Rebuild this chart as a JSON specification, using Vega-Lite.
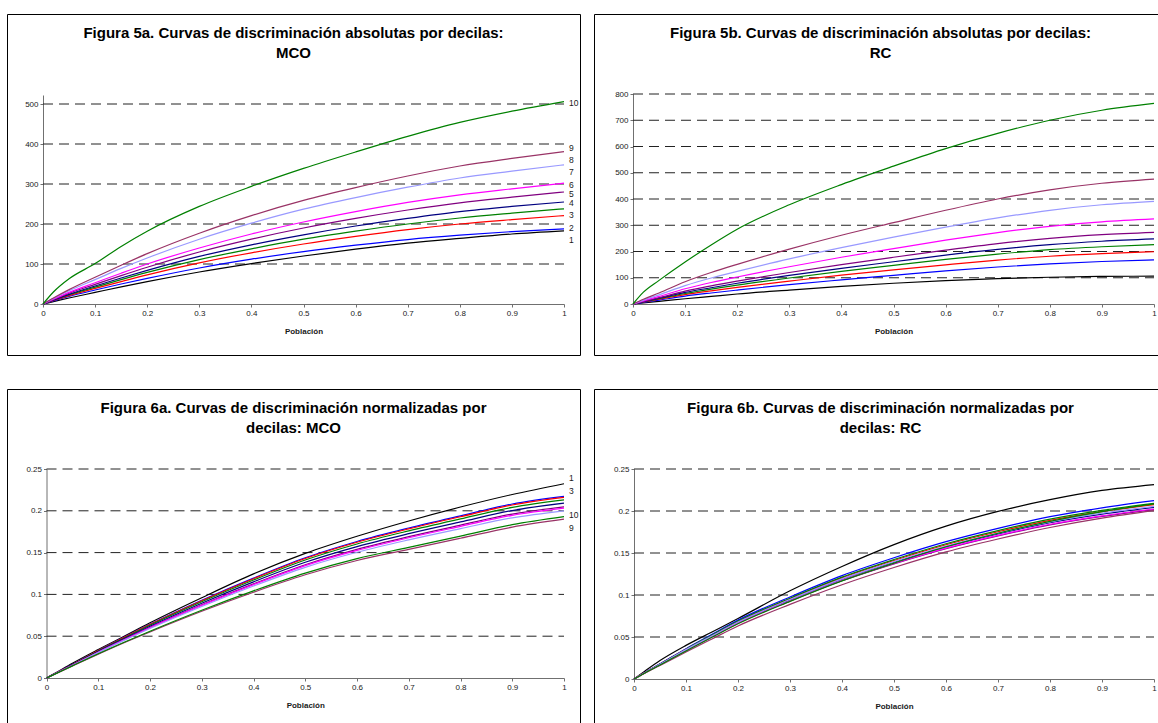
{
  "$schema": "https://vega.github.io/schema/vega-lite/v6.json",
  "padding": {"left": 6, "top": 13, "right": 0, "bottom": 0},
  "background": "white",
  "config": {
    "font": "Liberation Sans",
    "view": {"stroke": "#000000", "strokeWidth": 1},
    "title": {"fontSize": 15, "fontWeight": "bold", "color": "#000000", "lineHeight": 20, "anchor": "middle", "font": "Liberation Sans", "offset": -47},
    "axis": {"domainColor": "#707070", "tickColor": "#707070", "tickSize": 3, "labelFontSize": 8, "labelColor": "#1a1a1a", "labelPadding": 2, "titleFontSize": 8, "titleFontWeight": "bold", "titleColor": "#1a1a1a", "titlePadding": 10, "grid": false, "labelFlush": false, "labelOverlap": false, "domainWidth": 1, "tickWidth": 1},
    "text": {"fontSize": 8.5, "color": "#1a1a1a"}
  },
  "datasets": {
    "l5a": [
      {"x": 0, "1": 0, "2": 0, "3": 0, "4": 0, "5": 0, "6": 0, "7": 0, "8": 0, "9": 0, "10": 0},
      {"x": 0.02, "1": 6, "2": 8, "3": 9, "4": 10, "5": 10, "6": 11, "7": 12, "8": 14, "9": 15, "10": 30},
      {"x": 0.05, "1": 15, "2": 19, "3": 21, "4": 23, "5": 24, "6": 27, "7": 29, "8": 33, "9": 36, "10": 63},
      {"x": 0.1, "1": 29, "2": 35, "3": 39, "4": 42, "5": 45, "6": 49, "7": 53, "8": 61, "9": 67, "10": 101},
      {"x": 0.15, "1": 43, "2": 50, "3": 56, "4": 61, "5": 65, "6": 71, "7": 77, "8": 89, "9": 97, "10": 144},
      {"x": 0.2, "1": 56, "2": 64, "3": 73, "4": 79, "5": 84, "6": 92, "7": 100, "8": 115, "9": 126, "10": 182},
      {"x": 0.3, "1": 80, "2": 90, "3": 103, "4": 111, "5": 119, "6": 130, "7": 140, "8": 162, "9": 177, "10": 244},
      {"x": 0.4, "1": 101, "2": 112, "3": 128, "4": 138, "5": 148, "6": 162, "7": 175, "8": 202, "9": 221, "10": 294},
      {"x": 0.5, "1": 120, "2": 131, "3": 150, "4": 162, "5": 173, "6": 190, "7": 205, "8": 237, "9": 259, "10": 339},
      {"x": 0.6, "1": 137, "2": 147, "3": 169, "4": 182, "5": 195, "6": 214, "7": 231, "8": 266, "9": 291, "10": 380},
      {"x": 0.7, "1": 152, "2": 161, "3": 186, "4": 200, "5": 214, "6": 235, "7": 254, "8": 292, "9": 320, "10": 419},
      {"x": 0.8, "1": 164, "2": 172, "3": 200, "4": 215, "5": 231, "6": 253, "7": 273, "8": 315, "9": 345, "10": 454},
      {"x": 0.9, "1": 175, "2": 181, "3": 211, "4": 227, "5": 244, "6": 267, "7": 288, "8": 332, "9": 364, "10": 482},
      {"x": 1, "1": 183, "2": 188, "3": 221, "4": 238, "5": 255, "6": 280, "7": 302, "8": 348, "9": 381, "10": 506}
    ],
    "l5b": [
      {"x": 0, "1": 0, "2": 0, "3": 0, "4": 0, "5": 0, "6": 0, "7": 0, "8": 0, "9": 0, "10": 0},
      {"x": 0.02, "1": 4, "2": 6, "3": 8, "4": 9, "5": 9, "6": 10, "7": 12, "8": 15, "9": 18, "10": 45},
      {"x": 0.05, "1": 10, "2": 15, "3": 18, "4": 20, "5": 22, "6": 24, "7": 29, "8": 35, "9": 42, "10": 90},
      {"x": 0.1, "1": 20, "2": 30, "3": 36, "4": 40, "5": 44, "6": 49, "7": 58, "8": 70, "9": 85, "10": 160},
      {"x": 0.15, "1": 29, "2": 42, "3": 50, "4": 57, "5": 62, "6": 69, "7": 82, "8": 99, "9": 120, "10": 225},
      {"x": 0.2, "1": 38, "2": 53, "3": 63, "4": 72, "5": 79, "6": 87, "7": 103, "8": 124, "9": 151, "10": 285},
      {"x": 0.3, "1": 53, "2": 74, "3": 87, "4": 99, "5": 109, "6": 120, "7": 142, "8": 172, "9": 209, "10": 378},
      {"x": 0.4, "1": 67, "2": 92, "3": 110, "4": 124, "5": 136, "6": 150, "7": 178, "8": 215, "9": 262, "10": 455},
      {"x": 0.5, "1": 79, "2": 109, "3": 130, "4": 147, "5": 161, "6": 178, "7": 211, "8": 255, "9": 310, "10": 525},
      {"x": 0.6, "1": 89, "2": 126, "3": 149, "4": 170, "5": 186, "6": 205, "7": 243, "8": 293, "9": 357, "10": 592},
      {"x": 0.7, "1": 97, "2": 141, "3": 167, "4": 190, "5": 208, "6": 230, "7": 272, "8": 328, "9": 400, "10": 650},
      {"x": 0.8, "1": 102, "2": 153, "3": 182, "4": 207, "5": 226, "6": 250, "7": 296, "8": 357, "9": 435, "10": 700},
      {"x": 0.9, "1": 105, "2": 162, "3": 192, "4": 218, "5": 239, "6": 264, "7": 313, "8": 378, "9": 460, "10": 738},
      {"x": 1, "1": 106, "2": 168, "3": 199, "4": 226, "5": 248, "6": 273, "7": 324, "8": 391, "9": 476, "10": 764}
    ],
    "l6a": [
      {"x": 0, "1": 0, "2": 0, "3": 0, "4": 0, "5": 0, "6": 0, "7": 0, "8": 0, "9": 0, "10": 0},
      {"x": 0.02, "1": 0.007, "2": 0.0065, "3": 0.0065, "4": 0.0064, "5": 0.0063, "6": 0.0061, "7": 0.0061, "8": 0.006, "9": 0.0057, "10": 0.0058},
      {"x": 0.05, "1": 0.0175, "2": 0.0163, "3": 0.0162, "4": 0.016, "5": 0.0157, "6": 0.0154, "7": 0.0152, "8": 0.015, "9": 0.0143, "10": 0.0145},
      {"x": 0.1, "1": 0.034, "2": 0.033, "3": 0.0328, "4": 0.0324, "5": 0.0318, "6": 0.0311, "7": 0.0309, "8": 0.0304, "9": 0.0285, "10": 0.029},
      {"x": 0.15, "1": 0.05, "2": 0.0489, "3": 0.0486, "4": 0.0479, "5": 0.047, "6": 0.0461, "7": 0.0457, "8": 0.045, "9": 0.0422, "10": 0.0428},
      {"x": 0.2, "1": 0.066, "2": 0.0643, "3": 0.0639, "4": 0.0631, "5": 0.0619, "6": 0.0606, "7": 0.0601, "8": 0.0592, "9": 0.0551, "10": 0.056},
      {"x": 0.3, "1": 0.096, "2": 0.093, "3": 0.0924, "4": 0.0912, "5": 0.0895, "6": 0.0876, "7": 0.0869, "8": 0.0856, "9": 0.0798, "10": 0.0811},
      {"x": 0.4, "1": 0.1245, "2": 0.1195, "3": 0.1188, "4": 0.1172, "5": 0.115, "6": 0.1126, "7": 0.1117, "8": 0.11, "9": 0.1026, "10": 0.1042},
      {"x": 0.5, "1": 0.149, "2": 0.1438, "3": 0.143, "4": 0.1411, "5": 0.1384, "6": 0.1355, "7": 0.1345, "8": 0.1324, "9": 0.1235, "10": 0.1255},
      {"x": 0.6, "1": 0.1695, "2": 0.1633, "3": 0.1624, "4": 0.1603, "5": 0.1572, "6": 0.1539, "7": 0.1527, "8": 0.1504, "9": 0.1406, "10": 0.1428},
      {"x": 0.7, "1": 0.1878, "2": 0.1794, "3": 0.1784, "4": 0.176, "5": 0.1727, "6": 0.1691, "7": 0.1678, "8": 0.1652, "9": 0.1539, "10": 0.1563},
      {"x": 0.8, "1": 0.2045, "2": 0.194, "3": 0.1929, "4": 0.1903, "5": 0.1867, "6": 0.1828, "7": 0.1814, "8": 0.1786, "9": 0.1672, "10": 0.1698},
      {"x": 0.9, "1": 0.2195, "2": 0.2081, "3": 0.2069, "4": 0.2041, "5": 0.2003, "6": 0.1961, "7": 0.1946, "8": 0.1916, "9": 0.1805, "10": 0.1834},
      {"x": 1, "1": 0.2324, "2": 0.2172, "3": 0.216, "4": 0.2131, "5": 0.2091, "6": 0.2047, "7": 0.2031, "8": 0.2, "9": 0.19, "10": 0.193}
    ],
    "l6b": [
      {"x": 0, "1": 0, "2": 0, "3": 0, "4": 0, "5": 0, "6": 0, "7": 0, "8": 0, "9": 0, "10": 0},
      {"x": 0.02, "1": 0.009, "2": 0.0074, "3": 0.0073, "4": 0.0073, "5": 0.0072, "6": 0.0071, "7": 0.0071, "8": 0.0072, "9": 0.0066, "10": 0.0069},
      {"x": 0.05, "1": 0.022, "2": 0.018, "3": 0.0176, "4": 0.0178, "5": 0.0174, "6": 0.0171, "7": 0.0172, "8": 0.0175, "9": 0.016, "10": 0.0167},
      {"x": 0.1, "1": 0.04, "2": 0.0361, "3": 0.0353, "4": 0.0355, "5": 0.0347, "6": 0.0343, "7": 0.0344, "8": 0.035, "9": 0.0321, "10": 0.0334},
      {"x": 0.15, "1": 0.056, "2": 0.0531, "3": 0.0519, "4": 0.0523, "5": 0.0511, "6": 0.0504, "7": 0.0506, "8": 0.0514, "9": 0.0477, "10": 0.0496},
      {"x": 0.2, "1": 0.072, "2": 0.0701, "3": 0.0685, "4": 0.069, "5": 0.0675, "6": 0.0665, "7": 0.0668, "8": 0.0678, "9": 0.0631, "10": 0.0657},
      {"x": 0.3, "1": 0.105, "2": 0.0977, "3": 0.0955, "4": 0.0962, "5": 0.094, "6": 0.0927, "7": 0.0931, "8": 0.0946, "9": 0.0888, "10": 0.0924},
      {"x": 0.4, "1": 0.134, "2": 0.1231, "3": 0.1204, "4": 0.1213, "5": 0.1186, "6": 0.1169, "7": 0.1174, "8": 0.1192, "9": 0.1122, "10": 0.1168},
      {"x": 0.5, "1": 0.16, "2": 0.1444, "3": 0.1411, "4": 0.1422, "5": 0.139, "6": 0.1371, "7": 0.1376, "8": 0.1398, "9": 0.1327, "10": 0.138},
      {"x": 0.6, "1": 0.182, "2": 0.1635, "3": 0.1598, "4": 0.161, "5": 0.1574, "6": 0.1552, "7": 0.1558, "8": 0.1583, "9": 0.1513, "10": 0.1574},
      {"x": 0.7, "1": 0.1995, "2": 0.1794, "3": 0.1753, "4": 0.1767, "5": 0.1727, "6": 0.1704, "7": 0.171, "8": 0.1737, "9": 0.1667, "10": 0.1735},
      {"x": 0.8, "1": 0.2135, "2": 0.1932, "3": 0.1888, "4": 0.1903, "5": 0.186, "6": 0.1835, "7": 0.1842, "8": 0.1871, "9": 0.1804, "10": 0.1877},
      {"x": 0.9, "1": 0.2245, "2": 0.2038, "3": 0.1992, "4": 0.2007, "5": 0.1962, "6": 0.1935, "7": 0.1943, "8": 0.1974, "9": 0.1916, "10": 0.1993},
      {"x": 1, "1": 0.2315, "2": 0.2123, "3": 0.2075, "4": 0.2091, "5": 0.2044, "6": 0.2016, "7": 0.2024, "8": 0.2056, "9": 0.2004, "10": 0.2085}
    ]
  },
  "spacing": 32,
  "vconcat": [
    {
      "spacing": 12,
      "hconcat": [
        {
          "width": 573, "height": 341,
          "title": {"text": ["Figura 5a. Curvas de discriminación absolutas por decilas:", "MCO"]},
          "encoding": {
            "x": {"field": "x", "type": "quantitative", "scale": {"domain": [0, 1], "range": [36, 557], "nice": false, "zero": false},
                  "axis": {"values": [0, 0.1, 0.2, 0.3, 0.4, 0.5, 0.6, 0.7, 0.8, 0.9, 1], "format": "~r", "title": "Población", "offset": -51}},
            "y": {"field": "y", "type": "quantitative", "scale": {"domain": [0, 522.5], "range": [290, 81], "nice": false},
                  "axis": {"values": [0, 100, 200, 300, 400, 500], "format": "~r", "title": null, "offset": -36}}
          },
          "layer": [
            {"data": {"values": [{"x": 0, "x2": 1, "y": 100}, {"x": 0, "x2": 1, "y": 200}, {"x": 0, "x2": 1, "y": 300}, {"x": 0, "x2": 1, "y": 400}, {"x": 0, "x2": 1, "y": 500}]},
             "mark": {"type": "rule", "strokeDash": [10, 6], "color": "#222222", "strokeWidth": 1},
             "encoding": {"x2": {"field": "x2"}}},
            {"data": {"name": "l5a"},
             "transform": [{"fold": ["1", "2", "3", "4", "5", "6", "7", "8", "9", "10"], "as": ["d", "y"]}],
             "mark": {"type": "line", "interpolate": "monotone"},
             "encoding": {
               "color": {"field": "d", "type": "nominal", "legend": null, "scale": {"domain": ["1", "2", "3", "4", "5", "6", "7", "8", "9", "10"], "range": ["#000000", "#0000FF", "#FF0000", "#008000", "#000080", "#800080", "#FF00FF", "#9999FF", "#993366", "#008000"]}},
               "strokeWidth": {"field": "d", "type": "nominal", "legend": null, "scale": {"domain": ["1", "2", "3", "4", "5", "6", "7", "8", "9", "10"], "range": [1.2, 1.2, 1.2, 1.2, 1.2, 3, 1.2, 1.2, 1.2, 1.2]}}
             }},
            {"data": {"values": [{"x": 1, "y": 502, "t": "10"}, {"x": 1, "y": 389, "t": "9"}, {"x": 1, "y": 359, "t": "8"}, {"x": 1, "y": 331, "t": "7"}, {"x": 1, "y": 298, "t": "6"}, {"x": 1, "y": 274, "t": "5"}, {"x": 1, "y": 252, "t": "4"}, {"x": 1, "y": 223, "t": "3"}, {"x": 1, "y": 190, "t": "2"}, {"x": 1, "y": 161, "t": "1"}]},
             "mark": {"type": "text", "align": "left", "baseline": "middle", "dx": 5},
             "encoding": {"text": {"field": "t"}}}
          ]
        },
        {
          "width": 573, "height": 341,
          "title": {"text": ["Figura 5b. Curvas de discriminación absolutas por decilas:", "RC"]},
          "encoding": {
            "x": {"field": "x", "type": "quantitative", "scale": {"domain": [0, 1], "range": [39, 560], "nice": false, "zero": false},
                  "axis": {"values": [0, 0.1, 0.2, 0.3, 0.4, 0.5, 0.6, 0.7, 0.8, 0.9, 1], "format": "~r", "title": "Población", "offset": -51}},
            "y": {"field": "y", "type": "quantitative", "scale": {"domain": [0, 800], "range": [290, 80], "nice": false},
                  "axis": {"values": [0, 100, 200, 300, 400, 500, 600, 700, 800], "format": "~r", "title": null, "offset": -39}}
          },
          "layer": [
            {"data": {"values": [{"x": 0, "x2": 1, "y": 100}, {"x": 0, "x2": 1, "y": 200}, {"x": 0, "x2": 1, "y": 300}, {"x": 0, "x2": 1, "y": 400}, {"x": 0, "x2": 1, "y": 500}, {"x": 0, "x2": 1, "y": 600}, {"x": 0, "x2": 1, "y": 700}, {"x": 0, "x2": 1, "y": 800}]},
             "mark": {"type": "rule", "strokeDash": [10, 6], "color": "#222222", "strokeWidth": 1},
             "encoding": {"x2": {"field": "x2"}}},
            {"data": {"name": "l5b"},
             "transform": [{"fold": ["1", "2", "3", "4", "5", "6", "7", "8", "9", "10"], "as": ["d", "y"]}],
             "mark": {"type": "line", "interpolate": "monotone"},
             "encoding": {
               "color": {"field": "d", "type": "nominal", "legend": null, "scale": {"domain": ["1", "2", "3", "4", "5", "6", "7", "8", "9", "10"], "range": ["#000000", "#0000FF", "#FF0000", "#008000", "#000080", "#800080", "#FF00FF", "#9999FF", "#993366", "#008000"]}},
               "strokeWidth": {"field": "d", "type": "nominal", "legend": null, "scale": {"domain": ["1", "2", "3", "4", "5", "6", "7", "8", "9", "10"], "range": [1.2, 1.2, 1.2, 1.2, 1.2, 3, 1.2, 1.2, 1.2, 1.2]}}
             }},
            {"data": {"values": [{"x": 1, "y": 767, "t": "10"}, {"x": 1, "y": 495, "t": "9"}, {"x": 1, "y": 404, "t": "8"}, {"x": 1, "y": 347, "t": "7"}, {"x": 1, "y": 196, "t": "3"}, {"x": 1, "y": 160, "t": "2"}, {"x": 1, "y": 124, "t": "1"}]},
             "mark": {"type": "text", "align": "left", "baseline": "middle", "dx": 5},
             "encoding": {"text": {"field": "t"}}}
          ]
        }
      ]
    },
    {
      "spacing": 12,
      "hconcat": [
        {
          "width": 573, "height": 341,
          "title": {"text": ["Figura 6a. Curvas de discriminación normalizadas por", "decilas: MCO"]},
          "encoding": {
            "x": {"field": "x", "type": "quantitative", "scale": {"domain": [0, 1], "range": [39.5, 557], "nice": false, "zero": false},
                  "axis": {"values": [0, 0.1, 0.2, 0.3, 0.4, 0.5, 0.6, 0.7, 0.8, 0.9, 1], "format": "~r", "title": "Población", "offset": -52}},
            "y": {"field": "y", "type": "quantitative", "scale": {"domain": [0, 0.25], "range": [289, 80], "nice": false},
                  "axis": {"values": [0, 0.05, 0.1, 0.15, 0.2, 0.25], "format": "~r", "title": null, "offset": -39.5}}
          },
          "layer": [
            {"data": {"values": [{"x": 0, "x2": 1, "y": 0.05}, {"x": 0, "x2": 1, "y": 0.1}, {"x": 0, "x2": 1, "y": 0.15}, {"x": 0, "x2": 1, "y": 0.2}, {"x": 0, "x2": 1, "y": 0.25}]},
             "mark": {"type": "rule", "strokeDash": [10, 6], "color": "#222222", "strokeWidth": 1},
             "encoding": {"x2": {"field": "x2"}}},
            {"data": {"name": "l6a"},
             "transform": [{"fold": ["1", "2", "3", "4", "5", "6", "7", "8", "9", "10"], "as": ["d", "y"]}],
             "mark": {"type": "line", "interpolate": "monotone"},
             "encoding": {
               "color": {"field": "d", "type": "nominal", "legend": null, "scale": {"domain": ["1", "2", "3", "4", "5", "6", "7", "8", "9", "10"], "range": ["#000000", "#0000FF", "#FF0000", "#008000", "#000080", "#800080", "#FF00FF", "#9999FF", "#993366", "#008000"]}},
               "strokeWidth": {"field": "d", "type": "nominal", "legend": null, "scale": {"domain": ["1", "2", "3", "4", "5", "6", "7", "8", "9", "10"], "range": [1.2, 1.2, 1.2, 1.2, 1.2, 3, 1.2, 1.2, 1.2, 1.2]}}
             }},
            {"data": {"values": [{"x": 1, "y": 0.239, "t": "1"}, {"x": 1, "y": 0.224, "t": "3"}, {"x": 1, "y": 0.1955, "t": "10"}, {"x": 1, "y": 0.18, "t": "9"}]},
             "mark": {"type": "text", "align": "left", "baseline": "middle", "dx": 5},
             "encoding": {"text": {"field": "t"}}}
          ]
        },
        {
          "width": 573, "height": 341,
          "title": {"text": ["Figura 6b. Curvas de discriminación normalizadas por", "decilas: RC"]},
          "encoding": {
            "x": {"field": "x", "type": "quantitative", "scale": {"domain": [0, 1], "range": [40, 560], "nice": false, "zero": false},
                  "axis": {"values": [0, 0.1, 0.2, 0.3, 0.4, 0.5, 0.6, 0.7, 0.8, 0.9, 1], "format": "~r", "title": "Población", "offset": -51}},
            "y": {"field": "y", "type": "quantitative", "scale": {"domain": [0, 0.25], "range": [290, 80], "nice": false},
                  "axis": {"values": [0, 0.05, 0.1, 0.15, 0.2, 0.25], "format": "~r", "title": null, "offset": -40}}
          },
          "layer": [
            {"data": {"values": [{"x": 0, "x2": 1, "y": 0.05}, {"x": 0, "x2": 1, "y": 0.1}, {"x": 0, "x2": 1, "y": 0.15}, {"x": 0, "x2": 1, "y": 0.2}, {"x": 0, "x2": 1, "y": 0.25}]},
             "mark": {"type": "rule", "strokeDash": [10, 6], "color": "#222222", "strokeWidth": 1},
             "encoding": {"x2": {"field": "x2"}}},
            {"data": {"name": "l6b"},
             "transform": [{"fold": ["1", "2", "3", "4", "5", "6", "7", "8", "9", "10"], "as": ["d", "y"]}],
             "mark": {"type": "line", "interpolate": "monotone"},
             "encoding": {
               "color": {"field": "d", "type": "nominal", "legend": null, "scale": {"domain": ["1", "2", "3", "4", "5", "6", "7", "8", "9", "10"], "range": ["#000000", "#0000FF", "#FF0000", "#008000", "#000080", "#800080", "#FF00FF", "#9999FF", "#993366", "#008000"]}},
               "strokeWidth": {"field": "d", "type": "nominal", "legend": null, "scale": {"domain": ["1", "2", "3", "4", "5", "6", "7", "8", "9", "10"], "range": [1.2, 1.2, 1.2, 1.2, 1.2, 3, 1.2, 1.2, 1.2, 1.2]}}
             }},
            {"data": {"values": [{"x": 1, "y": 0.222, "t": "3"}, {"x": 1, "y": 0.195, "t": "10"}, {"x": 1, "y": 0.179, "t": "9"}]},
             "mark": {"type": "text", "align": "left", "baseline": "middle", "dx": 5},
             "encoding": {"text": {"field": "t"}}}
          ]
        }
      ]
    }
  ]
}
